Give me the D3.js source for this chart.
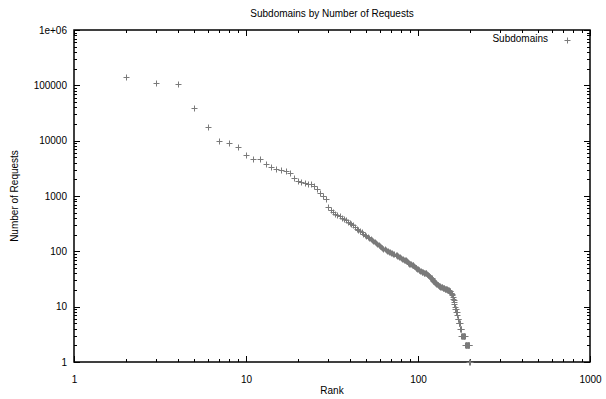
<!DOCTYPE html>
<html>
<head>
<meta charset="utf-8">
<script src="https://cdn.jsdelivr.net/npm/d3@7"></script>
<style>
  html, body { margin: 0; padding: 0; background: #fff; }
  svg { display: block; }
  text { font-family: "Liberation Sans", Arial, sans-serif; font-size: 10px; fill: #000; }
</style>
</head>
<body>
<svg id="chart" width="606" height="399"></svg>
<script>
// ---- data ----
const chartTitle = "Subdomains by Number of Requests";
const xTitle = "Rank";
const yTitle = "Number of Requests";
const seriesName = "Subdomains";
const firstRank = 2;
const requests = [
  142000,110000,105000,38700,17500,10000,9000,7700,5500,4750,
  4700,3800,3300,3050,2950,2830,2650,2100,1900,1800,
  1720,1680,1630,1500,1350,1150,1000,870,620,560,
  520,480,455,430,400,380,365,345,330,315,
  300,280,255,240,230,220,210,200,192,184,
  176,168,160,153,147,141,136,130,125,120,
  116,112,109,106,103,101,99,97,95,93,
  91,89,87,85,84,82,80,78,76,74,
  72,71,70,69,67,64,62,60,59,58,
  57,57,56,54,52,50,49,48,47,46,
  46,45,44,43,43,42,41,41,40,40,
  40,39,38,37,36,35,34,33,33,31,
  30,29,28,28,27,27,26,26,25,25,
  24,24,24,23,23,23,23,22,22,22,
  22,21,21,21,21,21,20,20,20,20,
  19,19,19,18,18,17,16,15,14,13,
  12,11,10,9,9,8,8,7,6,6,
  5,5,5,5,4,4,4,3,3,3,
  3,3,3,3,3,3,2,2,2,2,
  2,2,2,2,2,2,2,1,1
];
const ranks = requests.map((_, i) => firstRank + i);
const xTicks = [1, 10, 100, 1000];
const xTickLabels = ["1", "10", "100", "1000"];
const yTicks = [1, 10, 100, 1000, 10000, 100000, 1000000];
const yTickLabels = ["1", "10", "100", "1000", "10000", "100000", "1e+06"];

// ---- layout ----
const L = 74, R = 590, T = 30, B = 362;
const svg = d3.select("#chart");
const x = d3.scaleLog().domain([1, 1000]).range([L, R]);
const y = d3.scaleLog().domain([1, 1e6]).range([B, T]);

const minorX = [];
[1, 10, 100].forEach(d => { for (let k = 2; k <= 9; k++) minorX.push(d * k); });
const minorY = [];
[1, 10, 100, 1000, 10000, 100000].forEach(d => { for (let k = 2; k <= 9; k++) minorY.push(d * k); });

const MAJ = 6, MIN = 3;

function styleAxis(g) {
  g.select(".domain").remove();
  g.selectAll(".tick line").attr("stroke", "#000").attr("stroke-width", 1).attr("shape-rendering", "crispEdges");
}

// bottom major with labels
svg.append("g").attr("transform", `translate(0,${B})`)
  .call(d3.axisBottom(x).tickValues(xTicks).tickSize(-MAJ).tickPadding(14)
    .tickFormat((d, i) => xTickLabels[i]))
  .call(styleAxis)
  .call(g => g.selectAll("text").attr("font-size", 10).attr("font-family", "Liberation Sans, Arial, sans-serif"));
svg.append("g").attr("transform", `translate(0,${B})`)
  .call(d3.axisBottom(x).tickValues(minorX).tickSize(-MIN).tickFormat(""))
  .call(styleAxis);
// top mirror
svg.append("g").attr("transform", `translate(0,${T})`)
  .call(d3.axisTop(x).tickValues(xTicks).tickSize(-MAJ).tickFormat(""))
  .call(styleAxis);
svg.append("g").attr("transform", `translate(0,${T})`)
  .call(d3.axisTop(x).tickValues(minorX).tickSize(-MIN).tickFormat(""))
  .call(styleAxis);
// left major with labels
svg.append("g").attr("transform", `translate(${L},0)`)
  .call(d3.axisLeft(y).tickValues(yTicks).tickSize(-MAJ).tickPadding(7)
    .tickFormat((d, i) => yTickLabels[i]))
  .call(styleAxis)
  .call(g => g.selectAll("text").attr("font-size", 10).attr("font-family", "Liberation Sans, Arial, sans-serif"));
svg.append("g").attr("transform", `translate(${L},0)`)
  .call(d3.axisLeft(y).tickValues(minorY).tickSize(-MIN).tickFormat(""))
  .call(styleAxis);
// right mirror
svg.append("g").attr("transform", `translate(${R},0)`)
  .call(d3.axisRight(y).tickValues(yTicks).tickSize(-MAJ).tickFormat(""))
  .call(styleAxis);
svg.append("g").attr("transform", `translate(${R},0)`)
  .call(d3.axisRight(y).tickValues(minorY).tickSize(-MIN).tickFormat(""))
  .call(styleAxis);

// frame
svg.append("rect")
  .attr("x", L).attr("y", T).attr("width", R - L).attr("height", B - T)
  .attr("fill", "none").attr("stroke", "#000").attr("stroke-width", 1.5);

// points
const ptColor = "#7a7a7a";
const S = 3;
const pts = svg.append("g").attr("stroke", ptColor).attr("stroke-width", 1);
ranks.forEach((r, i) => {
  const cx = Math.round(x(r)) + 0.5, cy = Math.round(y(requests[i])) + 0.5;
  pts.append("path").attr("d", `M${cx - S},${cy}H${cx + S}M${cx},${cy - S}V${cy + S}`);
});

// titles
svg.append("text").attr("x", (L + R) / 2).attr("y", 17).attr("text-anchor", "middle").text(chartTitle);
svg.append("text").attr("x", (L + R) / 2).attr("y", 394).attr("text-anchor", "middle").text(xTitle);
svg.append("text").attr("transform", `translate(18,${(T + B) / 2}) rotate(-90)`)
  .attr("text-anchor", "middle").text(yTitle);

// legend
svg.append("text").attr("x", 548).attr("y", 42).attr("text-anchor", "end").text(seriesName);
const lx = 567.5, ly = 40.5;
svg.append("path").attr("stroke", ptColor).attr("stroke-width", 1)
  .attr("d", `M${lx - S},${ly}H${lx + S}M${lx},${ly - S}V${ly + S}`);
</script>
</body>
</html>
